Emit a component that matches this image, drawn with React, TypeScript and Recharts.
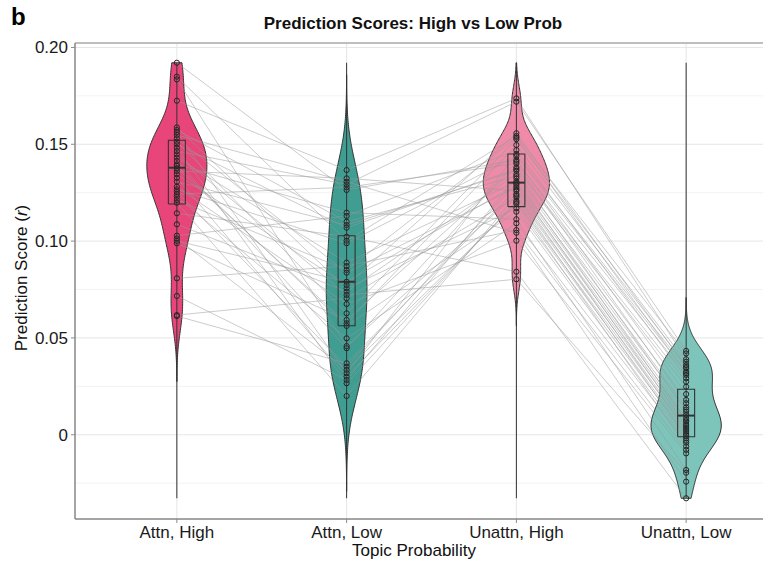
import React from 'react';
import { ComposedChart, Area, Scatter, XAxis, YAxis, CartesianGrid, ReferenceArea } from 'recharts';

// ---------- data ----------
const categories = ['Attn, High', 'Attn, Low', 'Unattn, High', 'Unattn, Low'];

// one entry per subject (same index = same subject across conditions)
const attnHigh = [0.1921, 0.1849, 0.1835, 0.1725, 0.1587, 0.1574, 0.1562, 0.1548, 0.1531, 0.1513, 0.15, 0.1482, 0.1465, 0.1448, 0.1431, 0.1414, 0.1396, 0.1376, 0.1362, 0.1345, 0.1327, 0.1307, 0.1281, 0.1267, 0.1255, 0.1242, 0.1229, 0.1212, 0.1198, 0.1144, 0.1087, 0.1028, 0.1014, 0.1001, 0.0989, 0.0808, 0.0717, 0.0618, 0.0613, 0.1388];
const attnLow = [0.1264, 0.1002, 0.0458, 0.1367, 0.0756, 0.11, 0.0318, 0.1307, 0.0837, 0.0627, 0.1069, 0.0266, 0.1293, 0.0722, 0.0889, 0.0447, 0.1147, 0.0576, 0.1324, 0.0773, 0.03, 0.1083, 0.0675, 0.0989, 0.0352, 0.1278, 0.0498, 0.0851, 0.02, 0.1023, 0.0739, 0.113, 0.0335, 0.079, 0.0593, 0.0871, 0.0283, 0.0705, 0.0369, 0.0562];
const unattnHigh = [0.1419, 0.1543, 0.1243, 0.1737, 0.1169, 0.1335, 0.145, 0.1043, 0.1278, 0.1526, 0.1372, 0.1208, 0.172, 0.0803, 0.1307, 0.141, 0.1113, 0.1496, 0.126, 0.1557, 0.12, 0.1363, 0.1002, 0.1439, 0.1298, 0.1401, 0.1092, 0.1535, 0.1235, 0.0842, 0.1346, 0.147, 0.1192, 0.129, 0.1381, 0.1057, 0.1324, 0.1226, 0.1268, 0.1152];
const unattnLow = [0.021, 0.042, 0.0055, 0.039, -0.0005, 0.0142, 0.0343, -0.0242, 0.0085, 0.0377, 0.0248, 0.0025, 0.0433, -0.0196, 0.013, 0.0309, -0.0182, 0.036, 0.0015, 0.035, 0.0004, 0.0119, -0.0096, 0.0326, 0.0102, 0.0163, -0.0041, 0.0318, 0.0035, -0.0328, 0.018, 0.0292, -0.006, 0.0045, 0.0274, -0.0078, 0.0075, -0.0018, 0.0068, -0.003];

// box statistics
const boxQ1 = [0.1192, 0.0563, 0.1178, -0.001];
const boxMedian = [0.1379, 0.079, 0.1302, 0.0099];
const boxQ3 = [0.1521, 0.1028, 0.145, 0.0235];

// widest half-width of each violin, in category units
const violinMaxHalfWidth = [0.177, 0.12, 0.195, 0.207];

const yTicks = [0, 0.05, 0.1, 0.15, 0.2];
const yMinorTicks = [-0.025, 0.025, 0.075, 0.125, 0.175];
const xTicks = [1, 2, 3, 4];
const yDomain: [number, number] = [-0.0435, 0.2023];
const xDomain: [number, number] = [0.4, 4.6];

const violinFills = ['#E8467A', '#3F9D92', '#EF8BA9', '#7DC4BB'];

// ---------- derived (statistics of the data) ----------
const groups = [attnHigh, attnLow, unattnHigh, unattnLow];
const allValues = groups.flat();
const gMin = Math.min(...allValues);
const gMax = Math.max(...allValues);

function quantile(sorted: number[], p: number) {
  const h = (sorted.length - 1) * p;
  const lo = Math.floor(h);
  const hi = Math.min(lo + 1, sorted.length - 1);
  return sorted[lo] + (h - lo) * (sorted[hi] - sorted[lo]);
}
function bwNrd0(v: number[]) {
  const n = v.length;
  const mean = v.reduce((a, b) => a + b, 0) / n;
  const sd = Math.sqrt(v.reduce((a, b) => a + (b - mean) ** 2, 0) / (n - 1));
  const s = [...v].sort((a, b) => a - b);
  const iqr = quantile(s, 0.75) - quantile(s, 0.25);
  const lo = Math.min(sd, iqr / 1.34);
  return 0.9 * lo * Math.pow(n, -0.2);
}
function dens(v: number[], bw: number, y: number) {
  let s = 0;
  for (const x of v) {
    const z = (y - x) / bw;
    s += Math.exp(-0.5 * z * z);
  }
  return s / (v.length * bw * Math.sqrt(2 * Math.PI));
}

const bwAdjust = 1.1;
const violinData = groups.map((v, g) => {
  const bw = bwNrd0(v) * bwAdjust;
  const lo = Math.max(Math.min(...v) - 3 * bw, gMin);
  const hi = Math.min(Math.max(...v) + 3 * bw, gMax);
  const steps = 200;
  const rows: { y: number; d: number }[] = [];
  for (let i = 0; i <= steps; i++) {
    const y = lo + ((hi - lo) * i) / steps;
    rows.push({ y, d: dens(v, bw, y) });
  }
  const peak = Math.max(...rows.map((r) => r.d));
  const k = violinMaxHalfWidth[g] / peak;
  const c = g + 1;
  const body = rows.map((r) => ({ y: r.y, r: [c - r.d * k, c + r.d * k] }));
  return [{ y: rows[0].y, r: [c, c] }, ...body, { y: rows[rows.length - 1].y, r: [c, c] }];
});

const pointData = groups.map((v, g) => v.map((y) => ({ x: g + 1, y })));
const subjectLines = attnHigh.map((_, i) => [
  { x: 1, y: attnHigh[i] },
  { x: 2, y: attnLow[i] },
  { x: 3, y: unattnHigh[i] },
  { x: 4, y: unattnLow[i] },
]);
const rangeLines = groups.map((_, g) => [
  { x: g + 1, y: gMin },
  { x: g + 1, y: gMax },
]);
const boxHalf = 0.05;
const boxRects = groups.map((_, g) => [
  { x: g + 1 - boxHalf, y: boxQ1[g] },
  { x: g + 1 + boxHalf, y: boxQ1[g] },
  { x: g + 1 + boxHalf, y: boxQ3[g] },
  { x: g + 1 - boxHalf, y: boxQ3[g] },
  { x: g + 1 - boxHalf, y: boxQ1[g] },
]);
const medianLines = groups.map((_, g) => [
  { x: g + 1 - boxHalf, y: boxMedian[g] },
  { x: g + 1 + boxHalf, y: boxMedian[g] },
]);

const FONT = '"Liberation Sans", Arial, Helvetica, sans-serif';
const EmptyShape = () => <g />;
const PointShape = (p: any) => (
  <circle cx={p.cx} cy={p.cy} r={2.6} fill="none" stroke="#262626" strokeWidth={1} />
);

export default function App() {
  return (
    <div style={{ position: 'absolute', left: 0, top: 0, width: 763, height: 564, overflow: 'hidden', background: '#fff', fontFamily: FONT }}>
      <ComposedChart
        width={800}
        height={564}
        layout="vertical"
        margin={{ top: 43, right: 12, bottom: 0, left: 0 }}
        style={{ fontFamily: FONT }}
      >
        <CartesianGrid vertical={false} horizontalValues={yMinorTicks} stroke="#F3F3F3" strokeWidth={1} />
        <CartesianGrid stroke="#E6E6E6" strokeWidth={1} />
        <XAxis
          type="number"
          dataKey="x"
          domain={xDomain}
          allowDataOverflow
          ticks={xTicks}
          interval={0}
          tickFormatter={(v: number) => categories[v - 1]}
          height={45}
          tickSize={4}
          tickMargin={3}
          axisLine={{ stroke: '#8a8a8a' }}
          tickLine={{ stroke: '#8a8a8a' }}
          tick={{ fill: '#1a1a1a', fontSize: 17, fontFamily: FONT }}
        />
        <YAxis
          type="number"
          dataKey="y"
          domain={yDomain}
          allowDataOverflow
          reversed
          ticks={yTicks}
          interval={0}
          tickFormatter={(v: number) => (v === 0 ? '0' : v.toFixed(2))}
          width={75}
          tickSize={4}
          tickMargin={3}
          axisLine={{ stroke: '#8a8a8a' }}
          tickLine={{ stroke: '#8a8a8a' }}
          tick={{ fill: '#1a1a1a', fontSize: 17, fontFamily: FONT }}
        />
        <ReferenceArea x1={xDomain[0]} x2={xDomain[1]} y1={yDomain[0]} y2={yDomain[1]} fill="none" stroke="#8a8a8a" strokeWidth={1} ifOverflow="visible" />
        {violinData.map((d, g) => (
          <Area
            key={'v' + g}
            data={d}
            dataKey="r"
            type="linear"
            fill={violinFills[g]}
            fillOpacity={1}
            stroke="#333333"
            strokeWidth={1}
            dot={false}
            activeDot={false}
            isAnimationActive={false}
          />
        ))}
        {rangeLines.map((d, g) => (
          <Scatter key={'rl' + g} data={d} line={{ stroke: '#333333', strokeWidth: 1 }} shape={EmptyShape} isAnimationActive={false} />
        ))}
        {subjectLines.map((d, i) => (
          <Scatter key={'s' + i} data={d} line={{ stroke: '#9a9a9a', strokeOpacity: 0.5, strokeWidth: 1 }} shape={EmptyShape} isAnimationActive={false} />
        ))}
        {boxRects.map((d, g) => (
          <Scatter key={'b' + g} data={d} line={{ stroke: '#333333', strokeWidth: 1.1 }} shape={EmptyShape} isAnimationActive={false} />
        ))}
        {medianLines.map((d, g) => (
          <Scatter key={'m' + g} data={d} line={{ stroke: '#333333', strokeWidth: 2 }} shape={EmptyShape} isAnimationActive={false} />
        ))}
        {pointData.map((d, g) => (
          <Scatter key={'p' + g} data={d} shape={PointShape} isAnimationActive={false} />
        ))}
      </ComposedChart>
      <div style={{ position: 'absolute', left: 11, top: 5, fontSize: 24, fontWeight: 'bold', lineHeight: '24px', color: '#000' }}>b</div>
      <div style={{ position: 'absolute', left: 263, width: 300, top: 14, textAlign: 'center', fontSize: 17, fontWeight: 'bold', lineHeight: '20px', color: '#111', whiteSpace: 'nowrap' }}>
        Prediction Scores: High vs Low Prob
      </div>
      <div style={{ position: 'absolute', left: 314, width: 200, top: 541, textAlign: 'center', fontSize: 17, lineHeight: '20px', color: '#111', whiteSpace: 'nowrap' }}>
        Topic Probability
      </div>
      <div style={{ position: 'absolute', left: 22 - 100, top: 278 - 10, width: 200, height: 20, textAlign: 'center', fontSize: 17, lineHeight: '20px', color: '#111', whiteSpace: 'nowrap', transform: 'rotate(-90deg)' }}>
        Prediction Score (<i>r</i>)
      </div>
    </div>
  );
}
